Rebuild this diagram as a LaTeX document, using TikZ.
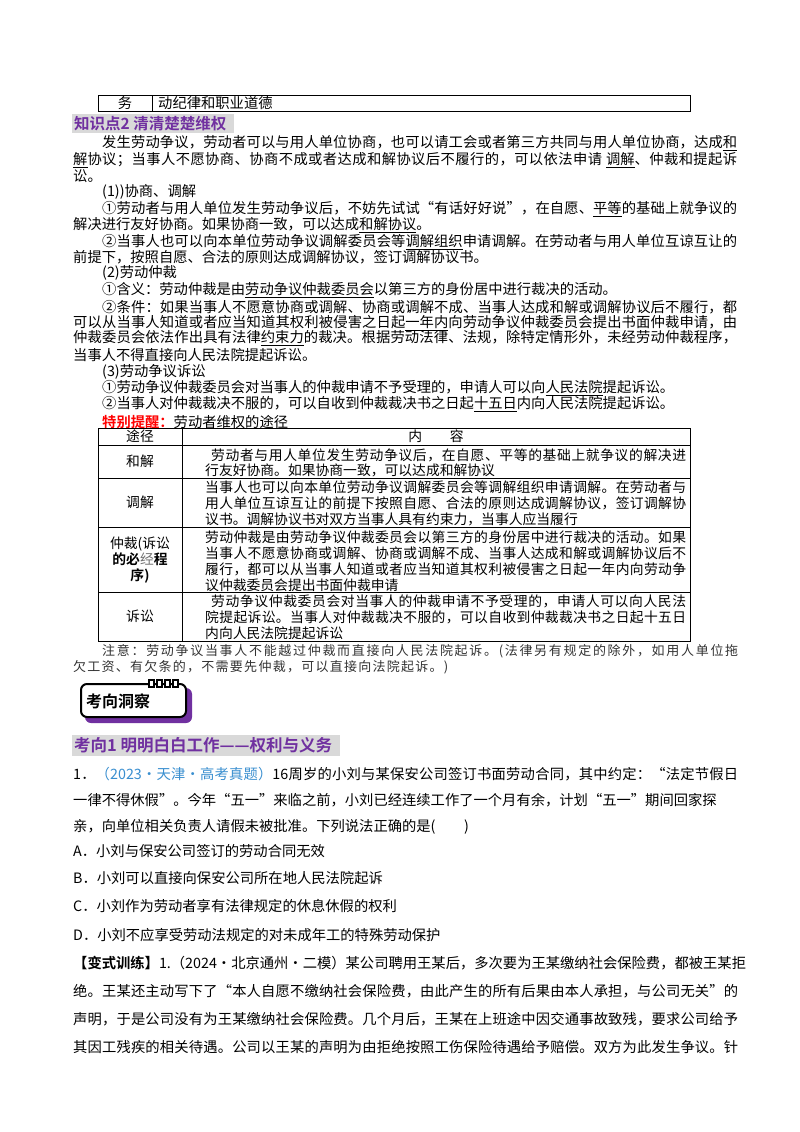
\documentclass[tikz,border=0pt]{standalone}
\usepackage{fontspec}
\setmainfont{Noto Sans CJK SC}[BoldFont={* Bold}]
\XeTeXinterchartokenstate=1
\newcount\cc
\cc="4E00 \loop\ifnum\cc<"A000 \XeTeXcharclass\cc=1 \advance\cc by 1 \repeat
\cc="3000 \loop\ifnum\cc<"3040 \XeTeXcharclass\cc=1 \advance\cc by 1 \repeat
\cc="FF00 \loop\ifnum\cc<"FFF0 \XeTeXcharclass\cc=1 \advance\cc by 1 \repeat
\cc="2010 \loop\ifnum\cc<"2030 \XeTeXcharclass\cc=1 \advance\cc by 1 \repeat
\cc="2460 \loop\ifnum\cc<"2470 \XeTeXcharclass\cc=1 \advance\cc by 1 \repeat
\XeTeXinterchartoks 1 1 = {\hskip0pt plus 1pt\relax}
\XeTeXinterchartoks 0 1 = {\hskip0pt plus 1pt\relax}
\XeTeXinterchartoks 1 0 = {\hskip0pt plus 1pt\relax}
\definecolor{kpurple}{HTML}{7030A0}
\definecolor{kgray}{HTML}{D9D9D9}
\definecolor{kblue}{HTML}{3A8FD0}
\newcommand\ul[1]{\underline{#1}}
\newcommand\jl[4]{\node[txt] at (#1,#2) {\makebox[#3pt][s]{#4}};}
\newcommand\tl[3]{\node[txt] at (#1,#2) {#3};}
\begin{document}
\begin{tikzpicture}[x=1pt,y=-1pt,
  txt/.style={anchor=west,inner sep=0pt},
  body/.style={font=\fontsize{14.3}{16}\selectfont},
  tab/.style={font=\fontsize{13.8}{16}\selectfont},
  note/.style={font=\fontsize{13}{16}\selectfont,text=black!80},
  ques/.style={font=\fontsize{14.3}{16}\selectfont},
  line/.style={draw=black,line width=0.8pt}]
\useasboundingbox[fill=white] (0,0) rectangle (800,1132);
% top table fragment
\draw[line] (98,95) rectangle (690,111) (152,95) -- (152,111);
\begin{scope}[body]
\node[inner sep=0] (wu) at (125,103) {务};
\tl{158}{103}{动纪律和职业道德}
% heading
\fill[kgray] (72,114) rectangle (234,133);
\node[txt,text=kpurple,font=\fontsize{15.5}{17}\bfseries] (h1) at (74,123.5) {知识点2\ 清清楚楚维权};
\jl{102}{143}{635}{发生劳动争议，劳动者可以与用人单位协商，也可以请工会或者第三方共同与用人单位协商，达成\ul{和}}
\jl{73}{160}{664}{\ul{解}协议；当事人不愿协商、协商不成或者达成和解协议后不履行的，可以依法申请\ \ul{调解}、仲裁和提起诉}
\tl{73}{176}{讼。}
\tl{102}{192}{(1))协商、调解}
\jl{102}{209}{635}{①劳动者与用人单位发生劳动争议后，不妨先试试“有话好好说”，在自愿、\ul{平等}的基础上就争议的}
\tl{73}{225}{解决进行友好协商。如果协商一致，可以达成\ul{和解协议}。}
\jl{102}{242}{635}{②当事人也可以向本单位劳动争议调解委员会等\ul{调解组织}申请调解。在劳动者与用人单位互谅互让的}
\tl{73}{257}{前提下，按照自愿、合法的原则达成调解协议，签订调解协议书。}
\tl{102}{273}{(2)劳动仲裁}
\tl{102}{290}{①含义：劳动仲裁是由\ul{劳动争议仲裁委员会}以第三方的身份居中进行裁决的活动。}
\jl{102}{307}{635}{②条件：如果当事人不愿意协商或调解、协商或调解不成、当事人达成和解或调解协议后不履行，都}
\jl{73}{323}{664}{可以从当事人知道或者应当知道其权利被侵害之日起\ul{一年内}向劳动争议仲裁委员会提出书面仲裁申请，由}
\jl{73}{338}{664}{仲裁委员会依法作出具有法律\ul{约束力}的裁决。根据劳动法律、法规，除特定情形外，未经劳动仲裁程序，}
\tl{73}{355}{当事人不得直接向人民法院提起诉讼。}
\tl{102}{372}{(3)劳动争议诉讼}
\tl{102}{388}{①劳动争议仲裁委员会对当事人的仲裁申请不予受理的，申请人可以向\ul{人民法院}提起诉讼。}
\tl{102}{404}{②当事人对仲裁裁决不服的，可以自收到仲裁裁决书之日起\ul{十五日}内向人民法院提起诉讼。}
\tl{102}{422}{\textcolor{red}{\bfseries 特别提醒：}劳动者维权的途径}
\end{scope}
% table
\draw[line] (98,428) rectangle (690,641);
\draw[line] (182,428) -- (182,641);
\foreach \yy in {445,478,527,592} \draw[line] (98,\yy) -- (690,\yy);
\begin{scope}[tab]
\node (c1) at (140,436.5) {途径};
\node (c2) at (436,436.5) {内\qquad 容};
\node (r1) at (140,461.5) {和解};
\node (r2) at (140,502.5) {调解};
\node[align=center,font=\fontsize{13.8}{16}\selectfont] (r3) at (140,560) {仲裁(诉讼\\\textbf{的必}\textcolor{black!55}{经}\textbf{程}\\\textbf{序)}};
\node (r4) at (140,616.5) {诉讼};
\jl{211}{455}{475}{劳动者与用人单位发生劳动争议后，在自愿、平等的基础上就争议的解决进}
\tl{205}{470}{行友好协商。如果协商一致，可以达成和解协议}
\jl{205}{487}{481}{当事人也可以向本单位劳动争议调解委员会等调解组织申请调解。在劳动者与}
\jl{205}{503}{481}{用人单位互谅互让的前提下按照自愿、合法的原则达成调解协议，签订调解协}
\tl{205}{519}{议书。调解协议书对双方当事人具有约束力，当事人应当履行}
\jl{205}{537}{481}{劳动仲裁是由劳动争议仲裁委员会以第三方的身份居中进行裁决的活动。如果}
\jl{205}{553}{481}{当事人不愿意协商或调解、协商或调解不成、当事人达成和解或调解协议后不}
\jl{205}{569}{481}{履行，都可以从当事人知道或者应当知道其权利被侵害之日起一年内向劳动争}
\tl{205}{585}{议仲裁委员会提出书面仲裁申请}
\jl{211}{601}{475}{劳动争议仲裁委员会对当事人的仲裁申请不予受理的，申请人可以向人民法}
\jl{205}{617}{481}{院提起诉讼。当事人对仲裁裁决不服的，可以自收到仲裁裁决书之日起十五日}
\tl{205}{633}{内向人民法院提起诉讼}
\end{scope}
\begin{scope}[note]
\jl{102}{651}{636}{注意：劳动争议当事人不能越过仲裁而直接向人民法院起诉。(法律另有规定的除外，如用人单位拖}
\jl{73}{667}{375}{欠工资、有欠条的，不需要先仲裁，可以直接向法院起诉。)}
\end{scope}
% badge
\fill[kpurple,rounded corners=6pt] (85,688) rectangle (192,723);
\draw[line width=2pt,fill=white,rounded corners=6pt] (81,684) rectangle (186,717);
\foreach \xx in {149,157,165,173} \draw[line width=1.2pt,fill=white] (\xx,680) rectangle (\xx+5,687);
\node[font=\fontsize{16}{18}\bfseries] (badge) at (118,701) {考向洞察};
% heading 2
\fill[kgray] (72,735) rectangle (340,756);
\node[txt,text=kpurple,font=\fontsize{16.5}{18}\bfseries] (h2) at (74,745.5) {考向1\ 明明白白工作——权利与义务};
\begin{scope}[ques]
\jl{73}{774}{665}{1．\textcolor{kblue}{（2023•天津•高考真题）}16周岁的小刘与某保安公司签订书面劳动合同，其中约定：“法定节假日}
\jl{73}{800}{643}{一律不得休假”。今年“五一”来临之前，小刘已经连续工作了一个月有余，计划“五一”期间回家探}
\tl{73}{827}{亲，向单位相关负责人请假未被批准。下列说法正确的是(\qquad)}
\tl{73}{851}{A．小刘与保安公司签订的劳动合同无效}
\tl{73}{878}{B．小刘可以直接向保安公司所在地人民法院起诉}
\tl{73}{906}{C．小刘作为劳动者享有法律规定的休息休假的权利}
\tl{73}{935}{D．小刘不应享受劳动法规定的对未成年工的特殊劳动保护}
\jl{73}{963}{648}{\textbf{【变式训练】}1.（2024·北京通州·二模）某公司聘用王某后，多次要为王某缴纳社会保险费，都被王某拒}
\jl{73}{991}{665}{绝。王某还主动写下了“本人自愿不缴纳社会保险费，由此产生的所有后果由本人承担，与公司无关”的}
\jl{73}{1019}{665}{声明，于是公司没有为王某缴纳社会保险费。几个月后，王某在上班途中因交通事故致残，要求公司给予}
\jl{73}{1047}{665}{其因工残疾的相关待遇。公司以王某的声明为由拒绝按照工伤保险待遇给予赔偿。双方为此发生争议。针}
\end{scope}
\end{tikzpicture}
\end{document}
